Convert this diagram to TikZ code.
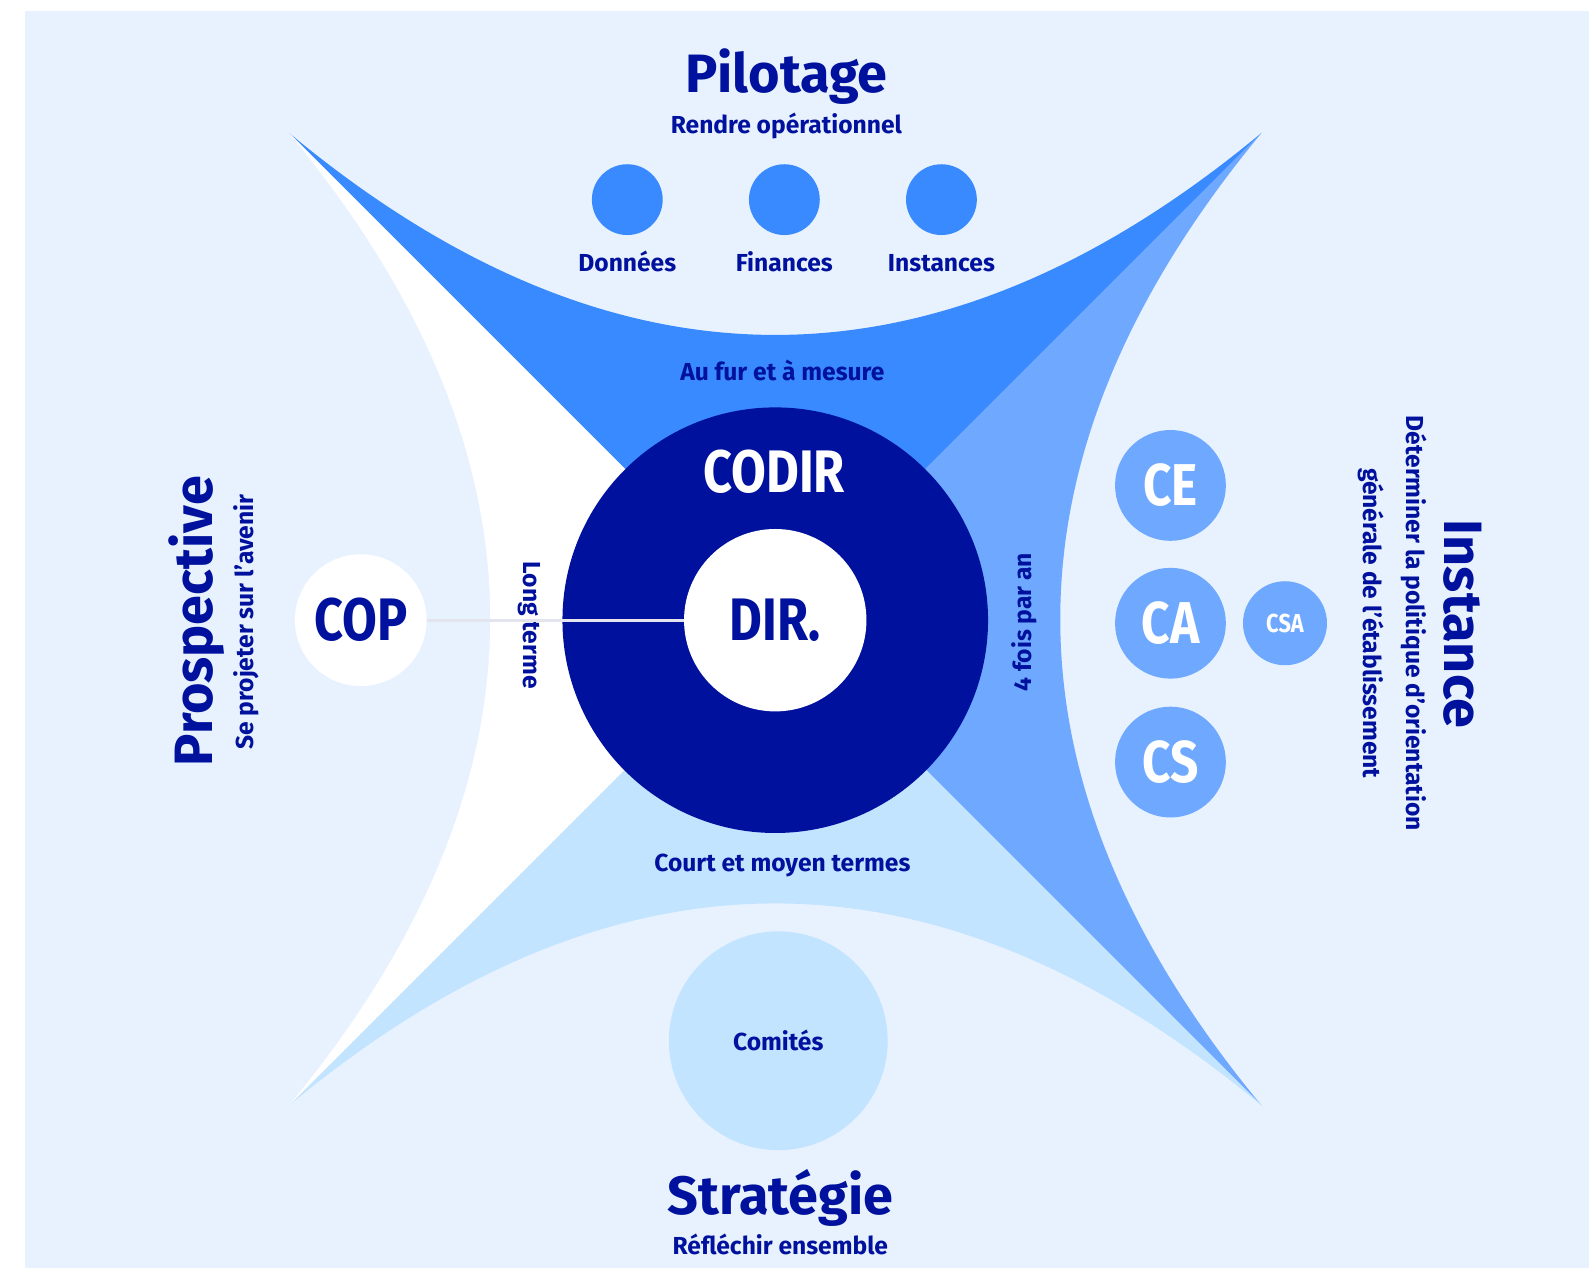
\documentclass[tikz,border=0pt]{standalone}
\usepackage{fontspec}
\setmainfont{Fira Sans}
\newfontfamily\condfont{Fira Sans}[FakeStretch=0.84]
\usetikzlibrary{positioning}

\definecolor{bgblue}{HTML}{E8F2FF}
\definecolor{topblue}{HTML}{3A8AFF}
\definecolor{midblue}{HTML}{6EA8FF}
\definecolor{paleblue}{HTML}{C2E4FF}
\definecolor{navy}{HTML}{00119E}
\definecolor{linegray}{HTML}{E3E4EE}

\begin{document}
\begin{tikzpicture}[x=0.5067pt,y=-0.5067pt,
  disc/.style={circle,inner sep=0pt,fill=#1},
  capt/.style={text=navy,inner sep=0pt,font=\bfseries\fontsize{12.3}{14.6}\selectfont},
  head/.style={text=navy,inner sep=0pt,font=\bfseries\fontsize{27}{30}\selectfont},
  abbr/.style={inner sep=0pt,font=\condfont\bfseries\fontsize{#1}{#1}\selectfont}]
\useasboundingbox (0,0) rectangle (1568,1251);
\fill[bgblue] (25,11) rectangle (1568,1251);

% tips of the four wings
\coordinate (tl) at (285,131);
\coordinate (tr) at (1245,131);
\coordinate (bl) at (285,1091);
\coordinate (br) at (1245,1091);
\coordinate (c) at (765,611);

% wings
\fill[topblue] (tl) .. controls (605,397) and (925,397) .. (tr) -- (c) -- cycle;
\fill[midblue] (tr) .. controls (980,451) and (980,771) .. (br) -- (c) -- cycle;
\fill[paleblue] (br) .. controls (925,825) and (605,825) .. (bl) -- (c) -- cycle;
\fill[white] (bl) .. controls (550,771) and (550,451) .. (tl) -- (c) -- cycle;

% centre
\node[disc=navy,minimum size=212.8pt] (codir) at (765,612) {};
\node[disc=white,minimum size=91.2pt,abbr=30,text=navy] (dir) at (codir) {DIR.};
\node[abbr=30,text=white,anchor=base] (codirtxt) at (764,486) {CODIR};

% rhythms
\node[capt,anchor=base] (rtop) at (772,375) {Au fur et à mesure};
\node[capt,anchor=base] (rbot) at (772,860) {Court et moyen termes};
\node[capt,rotate=-90] (rleft) at (522,617) {Long terme};
\node[capt,rotate=90] (rright) at (1011,614) {4 fois par an};

% Pilotage
\node[head,anchor=base] (pilot) at (776,91) {Pilotage};
\node[capt,anchor=base] (pilotsub) at (776,132) {Rendre opérationnel};
\foreach \x/\t [count=\i] in {619/Données,774/Finances,929/Instances} {
  \node[disc=topblue,minimum size=35.4pt] (dot\i) at (\x,197) {};
  \node[capt,anchor=base] (dotlbl\i) at (\x,268) {\t};
}

% Strategie
\node[disc=paleblue,minimum size=109.4pt,capt] (comites) at (768,1027) {Comités};
\node[head,anchor=base] (strat) at (770,1198) {Stratégie};
\node[capt,anchor=base] (stratsub) at (770,1238) {Réfléchir ensemble};

% Prospective
\node[disc=white,minimum size=65.9pt,abbr=30,text=navy] (cop) at (356,612) {COP};
\node[head,rotate=90] (prosp) at (194,613) {Prospective};
\node[capt,rotate=90] (prospsub) at (243,614) {Se projeter sur l'avenir};
\draw[linegray,line width=1.4pt] (cop) -- (dir);

% Instance
\node[disc=midblue,minimum size=55.4pt,abbr=29.5,text=white] (ce) at (1155,479) {CE};
\node[disc=midblue,minimum size=55.4pt,abbr=29.5,text=white] (ca) at (1155,615) {CA};
\node[disc=midblue,minimum size=55.4pt,abbr=29.5,text=white] (cs) at (1155,752) {CS};
\node[disc=midblue,minimum size=42pt,abbr=13,text=white] (csa) at (1268,615) {CSA};
\node[head,rotate=-90] (inst) at (1443,616) {Instance};
\node[capt,rotate=-90,align=center,font=\bfseries\fontsize{12.3}{21.8}\selectfont] (instsub) at (1374,615) {Déterminer la politique d'orientation\\générale de l'établissement};
\end{tikzpicture}
\end{document}
